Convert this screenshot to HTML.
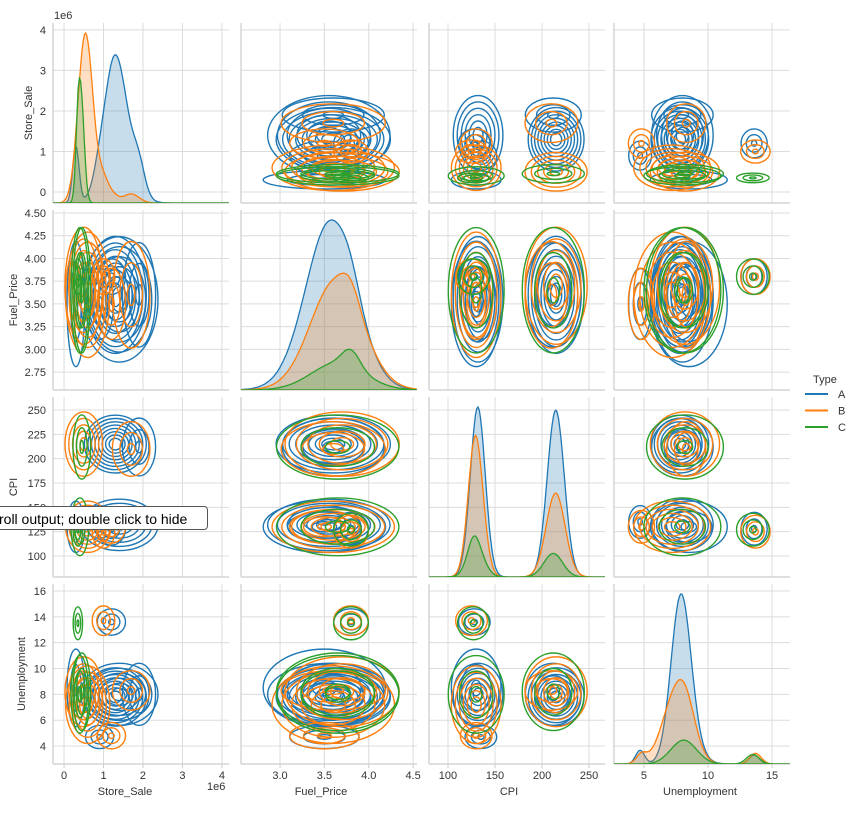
<!DOCTYPE html>
<html><head><meta charset="utf-8"><style>
body{margin:0;background:#fff;width:866px;height:810px;overflow:hidden;font-family:"Liberation Sans",sans-serif}
svg text{font-family:"Liberation Sans",sans-serif;fill:#333}
#tip{position:absolute;left:-6px;top:506px;width:214px;height:24px;border:1px solid #555;border-radius:4px;background:#fff;font-size:14px;line-height:24px;padding-left:4px;box-sizing:border-box;color:#000;white-space:nowrap}
</style></head><body>
<svg id="chart" width="866" height="810" xmlns="http://www.w3.org/2000/svg"></svg>
<div id="tip">roll output; double click to hide</div>
<script>
// ---- data ----
const variables = ["Store_Sale","Fuel_Price","CPI","Unemployment"];
const groups = ["A","B","C"];
const groupColors = ["#1f77b4","#ff7f0e","#2ca02c"];
// cluster arrays per group: weight, means and sds per variable [sale(1e6), fuel, cpi, unemp]
const clusterWeightsA = [0.28,0.2,0.05,0.04,0.015,0.02];
const clusterMeansA = [[1.3,3.6,215,7.8],[1.4,3.55,132,8.0],[0.3,3.5,130,8.5],[1.9,3.6,212,8.0],[1.2,3.8,128,13.6],[0.9,3.5,135,4.7]];
const clusterSdsA = [[0.28,0.28,9,0.75],[0.35,0.3,8,0.8],[0.08,0.3,8,1.0],[0.15,0.25,9,0.8],[0.15,0.1,6,0.4],[0.15,0.2,6,0.35]];
const clusterWeightsB = [0.16,0.2,0.02,0.02,0.015];
const clusterMeansB = [[0.5,3.7,215,8.2],[0.6,3.6,130,7.2],[1.7,3.6,210,8.3],[1.0,3.8,125,13.7],[1.2,3.5,130,4.8]];
const clusterSdsB = [[0.17,0.28,10,0.9],[0.2,0.3,8,1.0],[0.2,0.3,10,0.6],[0.12,0.1,6,0.45],[0.15,0.2,6,0.4]];
const clusterWeightsC = [0.05,0.05,0.02];
const clusterMeansC = [[0.4,3.65,130,8.0],[0.45,3.65,212,8.2],[0.35,3.8,127,13.5]];
const clusterSdsC = [[0.08,0.3,9,1.0],[0.08,0.3,10,1.0],[0.05,0.1,6,0.5]];
const xTicks = [[0,1,2,3,4],[3.0,3.5,4.0,4.5],[100,150,200,250],[5,10,15]];
const xTickLabels = [["0","1","2","3","4"],["3.0","3.5","4.0","4.5"],["100","150","200","250"],["5","10","15"]];
const yTicks = [[0,1,2,3,4],[2.75,3.0,3.25,3.5,3.75,4.0,4.25,4.5],[100,125,150,175,200,225,250],[4,6,8,10,12,14,16]];
const yTickLabels = [["0","1","2","3","4"],["2.75","3.00","3.25","3.50","3.75","4.00","4.25","4.50"],["100","125","150","175","200","225","250"],["4","6","8","10","12","14","16"]];
// ---- layout / style ----
const spread=[2.8,2.3,3.3,3.0]; // outer contour size in sd units per variable (style)
const colX=[53,241,429,614], rowY=[23,210,397,584], PW=176, PH=180;
const xDom=[[-0.28,4.18],[2.56,4.544],[79.8,267],[2.66,16.4]];
const yDom=[[-0.27,4.17],[2.553,4.533],[78.4,263.4],[2.61,16.54]];
const sx=(v,val)=>colX[v]+(val-xDom[v][0])/(xDom[v][1]-xDom[v][0])*PW;
const sy=(v,val)=>rowY[v]+PH-(val-yDom[v][0])/(yDom[v][1]-yDom[v][0])*PH;
const NS="http://www.w3.org/2000/svg", svg=document.getElementById('chart');
function mk(tag,attrs,parent){const e=document.createElementNS(NS,tag);for(const k in attrs)e.setAttribute(k,attrs[k]);(parent||svg).appendChild(e);return e;}
const W=[clusterWeightsA,clusterWeightsB,clusterWeightsC],M=[clusterMeansA,clusterMeansB,clusterMeansC],S=[clusterSdsA,clusterSdsB,clusterSdsC];
const defs=mk('defs',{});
for(let r=0;r<4;r++)for(let c=0;c<4;c++){
  const cp=mk('clipPath',{id:'cp'+r+c},defs);mk('rect',{x:colX[c],y:rowY[r],width:PW,height:PH},cp);
}
for(let r=0;r<4;r++)for(let c=0;c<4;c++){
  const g=mk('g',{});
  
  
  xTicks[c].forEach(t=>{const x=sx(c,t);mk('line',{x1:x,x2:x,y1:rowY[r],y2:rowY[r]+PH,stroke:'#dcdcdc','stroke-width':1},g);});
  yTicks[r].forEach(t=>{const y=sy(r,t);mk('line',{x1:colX[c],x2:colX[c]+PW,y1:y,y2:y,stroke:'#dcdcdc','stroke-width':1},g);});
  mk('line',{x1:colX[c],x2:colX[c],y1:rowY[r],y2:rowY[r]+PH,stroke:'#ccc','stroke-width':1.2},g);
  mk('line',{x1:colX[c],x2:colX[c]+PW,y1:rowY[r]+PH,y2:rowY[r]+PH,stroke:'#ccc','stroke-width':1.2},g);
  const inner=mk('g',{'clip-path':'url(#cp'+r+c+')'},g);
  if(r===c){
    const N=140, xs=[], dens=[[],[],[]]; let mx=0;
    for(let i=0;i<=N;i++){const v=xDom[c][0]+(xDom[c][1]-xDom[c][0])*i/N;xs.push(v);}
    for(let gi=0;gi<3;gi++)xs.forEach(v=>{let d=0;W[gi].forEach((w,k)=>{const m=M[gi][k][c],s=S[gi][k][c];d+=w*Math.exp(-0.5*((v-m)/s)**2)/(s*2.5066);});dens[gi].push(d);mx=Math.max(mx,d);});
    const base=rowY[r]+PH;
    for(let gi=0;gi<3;gi++){
      let p='M'+sx(c,xs[0])+','+base;
      xs.forEach((v,i)=>{p+=' L'+sx(c,v).toFixed(1)+','+(base-dens[gi][i]/mx*170).toFixed(1);});
      p+=' L'+sx(c,xs[N])+','+base+' Z';
      const e=mk('path',{d:p,fill:groupColors[gi],'fill-opacity':0.25,stroke:groupColors[gi],'stroke-width':1.3},inner);
      
      
    }
  } else {
    for(let gi=0;gi<3;gi++){
      W[gi].forEach((w,k)=>{
        const n=Math.max(3,Math.min(8,Math.round(w*32)));
        const cx=sx(c,M[gi][k][c]), cy=sy(r,M[gi][k][r]);
        const kx=PW/(xDom[c][1]-xDom[c][0]), ky=PH/(yDom[r][1]-yDom[r][0]);
        const small=w<0.03?0.85:1;
        for(let l=0;l<n;l++){
          const f=(0.2+0.8*(l/(Math.max(1,n-1))))*small;
          const e=mk('ellipse',{cx:cx,cy:cy,rx:S[gi][k][c]*kx*f*spread[c],ry:S[gi][k][r]*ky*f*spread[r],fill:'none',stroke:groupColors[gi],'stroke-width':1.4},inner);
          
          
        }
      });
    }
  }
  if(r===3){xTicks[c].forEach((t,i)=>{const x=sx(c,t);mk('line',{x1:x,x2:x,y1:764,y2:768,stroke:'#ccc'},g);const tx=mk('text',{x:x,y:779,'font-size':11,'text-anchor':'middle'},g);tx.textContent=xTickLabels[c][i];});}
  if(c===0){yTicks[r].forEach((t,i)=>{const y=sy(r,t);const tx=mk('text',{x:46,y:y+4,'font-size':11,'text-anchor':'end'},g);tx.textContent=yTickLabels[r][i];});}
}
const xLabX=[125,321,509,700], yLabX=[32,17,17,25];
variables.forEach((v,i)=>{
  const t=mk('text',{x:xLabX[i],y:795,'font-size':11,'text-anchor':'middle'});t.textContent=v;
  
  const cy=rowY[i]+PH/2;
  const u=mk('text',{x:yLabX[i],y:cy,'font-size':11,'text-anchor':'middle',transform:'rotate(-90 '+yLabX[i]+' '+cy+')'});u.textContent=v;
  
});
let o=mk('text',{x:54,y:19,'font-size':11});o.textContent='1e6';
o=mk('text',{x:207,y:790,'font-size':11});o.textContent='1e6';
const lg=mk('g',{});
o=mk('text',{x:813,y:383,'font-size':11},lg);o.textContent='Type';
groups.forEach((gname,i)=>{const y=394+i*16.5;
  const e=mk('line',{x1:805,x2:828,y1:y,y2:y,stroke:groupColors[i],'stroke-width':2},lg);
  
  const t=mk('text',{x:838,y:y+4,'font-size':11},lg);t.textContent=gname;});
</script>
</body></html>
